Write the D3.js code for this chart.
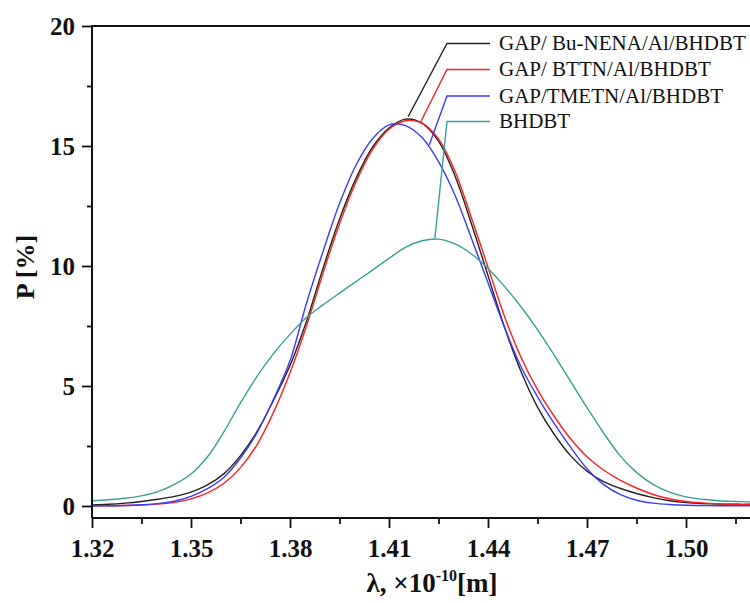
<!DOCTYPE html>
<html><head><meta charset="utf-8">
<script src="https://cdn.jsdelivr.net/npm/d3@7"></script>
<style>
html,body{margin:0;padding:0;background:#fff;}
svg{display:block;}
</style></head>
<body>
<script>
// ---- data ----
const lambda = [1.320,1.325,1.330,1.335,1.340,1.345,1.350,1.355,1.360,1.365,1.370,1.375,1.380,1.385,1.390,1.395,1.400,1.405,1.410,1.415,1.420,1.425,1.430,1.435,1.440,1.445,1.450,1.455,1.460,1.465,1.470,1.475,1.480,1.485,1.490,1.495,1.500,1.505,1.510,1.515,1.520];
const buNena = [0.04,0.07,0.12,0.19,0.28,0.40,0.58,0.88,1.35,2.10,3.10,4.40,5.85,7.70,9.90,11.95,13.65,14.95,15.75,16.12,15.95,15.20,13.75,11.75,9.60,7.45,5.60,4.12,3.00,2.10,1.45,1.02,0.74,0.52,0.35,0.22,0.14,0.10,0.08,0.07,0.07];
const bttn   = [0.00,0.01,0.02,0.04,0.08,0.15,0.30,0.55,0.95,1.60,2.55,3.90,5.55,7.50,9.70,11.75,13.50,14.85,15.70,16.05,15.95,15.30,13.95,12.00,9.95,7.90,6.20,4.85,3.75,2.80,2.05,1.50,1.08,0.75,0.48,0.30,0.19,0.13,0.09,0.07,0.06];
const tmetn  = [0.00,0.01,0.02,0.05,0.10,0.20,0.40,0.72,1.20,2.00,3.05,4.45,6.05,8.45,10.60,12.60,14.20,15.30,15.88,15.85,15.35,14.35,12.95,11.15,9.30,7.45,5.80,4.55,3.45,2.45,1.55,0.90,0.48,0.24,0.12,0.06,0.03,0.02,0.01,0.01,0.01];
const bhdbt  = [0.22,0.26,0.32,0.42,0.60,0.90,1.33,2.05,3.10,4.30,5.40,6.35,7.15,7.85,8.38,8.87,9.35,9.83,10.32,10.78,11.05,11.12,10.92,10.50,9.90,9.15,8.30,7.35,6.30,5.20,4.10,3.05,2.10,1.40,0.90,0.58,0.38,0.28,0.22,0.19,0.17];

const seriesNames = ["GAP/ Bu-NENA/Al/BHDBT","GAP/ BTTN/Al/BHDBT","GAP/TMETN/Al/BHDBT","BHDBT"];
const seriesValues = [buNena, bttn, tmetn, bhdbt];
const seriesColors = ["#222222","#ff2020","#3a3aff","#3a9e9a"];
// label pointer anchors on the curves (lambda, P)
const anchorX = [1.4158,1.4194,1.4222,1.4239];
const anchorY = [16.22,15.95,15.04,11.15];

const xTicks = [1.32,1.35,1.38,1.41,1.44,1.47,1.50];
const xMinor = [1.335,1.365,1.395,1.425,1.455,1.485,1.515];
const yTicks = [0,5,10,15,20];
const yMinor = [2.5,7.5,12.5,17.5];

// ---- layout ----
const W = 750, H = 603;
const svg = d3.select("body").append("svg").attr("width", W).attr("height", H);

const x = d3.scaleLinear().domain([1.32, 1.52]).range([92, 752]);
const y = d3.scaleLinear().domain([-0.5, 20]).range([518, 26]);

const serif = "'Liberation Serif','Times New Roman',serif";

svg.append("clipPath").attr("id","clip").append("rect")
  .attr("x", 92).attr("y", 20).attr("width", W - 92).attr("height", 498);

const line = d3.line()
  .x((d,i) => x(lambda[i]))
  .y(d => y(d))
  .curve(d3.curveCatmullRom.alpha(0.5));

const g = svg.append("g").attr("clip-path","url(#clip)");
seriesValues.forEach((vals, k) => {
  g.append("path").datum(vals)
    .attr("d", line)
    .attr("fill","none")
    .attr("stroke", seriesColors[k])
    .attr("stroke-width", 1.4);
});

// axes
const xAxis = svg.append("g").attr("transform", `translate(0,${y(-0.5)})`)
  .call(d3.axisBottom(x).tickValues(xTicks).tickSize(10).tickSizeOuter(0).tickFormat(d3.format(".2f")));
svg.append("g").attr("transform", `translate(0,${y(-0.5)})`)
  .call(d3.axisBottom(x).tickValues(xMinor).tickSize(6).tickSizeOuter(0).tickFormat(""))
  .select(".domain").remove();

const yAxis = svg.append("g").attr("transform", `translate(${x(1.32)},0)`)
  .call(d3.axisLeft(y).tickValues(yTicks).tickSize(10).tickSizeOuter(0).tickFormat(d3.format("d")));
svg.append("g").attr("transform", `translate(${x(1.32)},0)`)
  .call(d3.axisLeft(y).tickValues(yMinor).tickSize(5).tickSizeOuter(0).tickFormat(""))
  .select(".domain").remove();

yAxis.select(".domain").attr("d", `M0,${y(20)-1}V${y(-0.5)}`);
xAxis.select(".domain").attr("d", `M${x(1.32)},0H${W}`);

svg.selectAll(".domain").attr("stroke","#111").attr("stroke-width",2);
svg.selectAll(".tick line").attr("stroke","#111").attr("stroke-width",1.8);

xAxis.selectAll(".tick text")
  .attr("font-family", serif).attr("font-weight","bold").attr("font-size", 25)
  .attr("fill","#111").attr("dy", "0").attr("y", 39);
yAxis.selectAll(".tick text")
  .attr("font-family", serif).attr("font-weight","bold").attr("font-size", 25)
  .attr("fill","#111").attr("x", -17).attr("dy","0.34em");

// top frame line
svg.append("line").attr("x1", x(1.32)).attr("x2", W).attr("y1", y(20)).attr("y2", y(20))
  .attr("stroke","#111").attr("stroke-width",2);

// axis titles
const xt = svg.append("text").attr("x", 432).attr("y", 592)
  .attr("text-anchor","middle")
  .attr("font-family", serif).attr("font-weight","bold").attr("font-size", 27).attr("fill","#111");
xt.append("tspan").text("λ, ×10");
xt.append("tspan").attr("font-size", 16).attr("dy", -11).text("-10");
xt.append("tspan").attr("dy", 11).text("[m]");

svg.append("text")
  .attr("transform", "translate(34,267) rotate(-90)")
  .attr("text-anchor","middle")
  .attr("font-family", serif).attr("font-weight","bold").attr("font-size", 26).attr("fill","#111")
  .text("P [%]");

// labels with leader lines
const rowY = [43.5, 69.5, 96, 121.5];
const elbowX = 447, lineEnd = 490, textX = 499;
seriesNames.forEach((name, k) => {
  svg.append("path")
    .attr("d", `M${x(anchorX[k])},${y(anchorY[k])}L${elbowX},${rowY[k]}H${lineEnd}`)
    .attr("fill","none").attr("stroke", seriesColors[k]).attr("stroke-width", 1.4);
  svg.append("text").attr("x", textX).attr("y", rowY[k]).attr("dy","0.33em")
    .attr("font-family", serif).attr("font-size", 21).attr("fill","#111")
    .text(name);
});
</script>
</body></html>
